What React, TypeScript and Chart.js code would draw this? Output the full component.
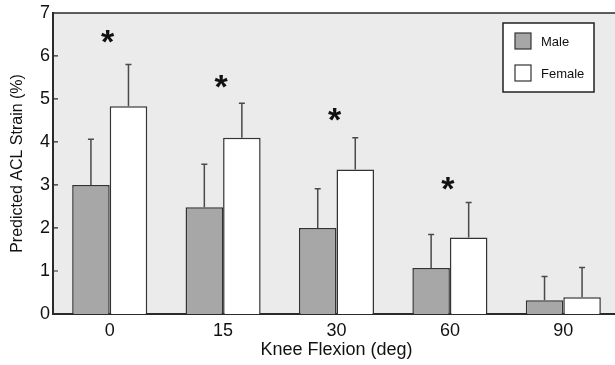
import React, { useEffect, useRef } from "react";
import { Chart, registerables } from "chart.js";

Chart.register(...registerables);

const categories = ["0", "15", "30", "60", "90"];
const maleValues = [3.0, 2.48, 2.0, 1.07, 0.32];
const maleUpper = [4.06, 3.48, 2.91, 1.85, 0.87];
const femaleValues = [4.83, 4.1, 3.36, 1.78, 0.39];
const femaleUpper = [5.8, 4.9, 4.1, 2.59, 1.08];
const asteriskLevels = [6.44, 5.41, 4.64, 3.03, null];
const yTicks = [0, 1, 2, 3, 4, 5, 6, 7];

const FONT = "'Liberation Sans', Arial, Helvetica, sans-serif";
const AXIS_COLOR = "#2a2a2a";

const backgroundPlugin = {
  id: "plotBackground",
  beforeDraw(chart: any) {
    const { ctx, chartArea } = chart;
    ctx.save();
    ctx.fillStyle = "#ebebeb";
    ctx.fillRect(chartArea.left, chartArea.top, chartArea.right - chartArea.left, chartArea.bottom - chartArea.top);
    ctx.restore();
  },
};

const framePlugin = {
  id: "frame",
  afterDatasetsDraw(chart: any) {
    const { ctx, chartArea, scales } = chart;
    const y = scales.y;
    ctx.save();
    ctx.strokeStyle = AXIS_COLOR;
    ctx.lineWidth = 1.5;
    ctx.beginPath();
    ctx.moveTo(chartArea.left, chartArea.top);
    ctx.lineTo(chartArea.right, chartArea.top);
    ctx.lineTo(chartArea.right, chartArea.bottom);
    ctx.stroke();
    ctx.lineWidth = 1.2;
    ctx.beginPath();
    yTicks.forEach((t) => {
      if (t === 0 || t === 7) return;
      const py = y.getPixelForValue(t);
      ctx.moveTo(chartArea.left, py);
      ctx.lineTo(chartArea.left + 5, py);
    });
    ctx.stroke();
    ctx.restore();
  },
};

const errorBarPlugin = {
  id: "errorBars",
  afterDatasetsDraw(chart: any) {
    const { ctx, scales } = chart;
    const uppers = [maleUpper, femaleUpper];
    ctx.save();
    ctx.strokeStyle = "#4a4a4a";
    ctx.lineWidth = 1.5;
    chart.data.datasets.forEach((_ds: any, di: number) => {
      const meta = chart.getDatasetMeta(di);
      meta.data.forEach((el: any, i: number) => {
        const top = scales.y.getPixelForValue(uppers[di][i]);
        ctx.beginPath();
        ctx.moveTo(el.x, el.y);
        ctx.lineTo(el.x, top);
        ctx.moveTo(el.x - 3, top);
        ctx.lineTo(el.x + 3, top);
        ctx.stroke();
      });
    });
    ctx.restore();
  },
};

const asteriskPlugin = {
  id: "asterisks",
  afterDatasetsDraw(chart: any) {
    const { ctx, scales } = chart;
    ctx.save();
    ctx.fillStyle = "#111";
    ctx.font = `bold 34px ${FONT}`;
    ctx.textAlign = "center";
    ctx.textBaseline = "alphabetic";
    const m = ctx.measureText("*");
    asteriskLevels.forEach((v, i) => {
      if (v == null) return;
      const cx = scales.x.getPixelForValue(i) - 2;
      const cy = scales.y.getPixelForValue(v);
      const base = cy + (m.actualBoundingBoxAscent - m.actualBoundingBoxDescent) / 2;
      ctx.fillText("*", cx, base);
    });
    ctx.restore();
  },
};

const legendPlugin = {
  id: "boxLegend",
  afterDraw(chart: any) {
    const { ctx } = chart;
    ctx.save();
    ctx.fillStyle = "#ffffff";
    ctx.fillRect(503, 23, 91, 69);
    ctx.strokeStyle = "#222";
    ctx.lineWidth = 1.5;
    ctx.strokeRect(503, 23, 91, 69);
    const items = chart.data.datasets.map((ds: any) => ({ label: ds.label, color: ds.backgroundColor }));
    items.forEach((it: any, i: number) => {
      const y0 = 33 + i * 32;
      ctx.fillStyle = it.color;
      ctx.fillRect(515, y0, 16, 16);
      ctx.strokeStyle = "#333";
      ctx.lineWidth = 1.2;
      ctx.strokeRect(515, y0, 16, 16);
      ctx.fillStyle = "#111";
      ctx.font = `13px ${FONT}`;
      ctx.textBaseline = "middle";
      ctx.textAlign = "left";
      ctx.fillText(it.label, 541, y0 + 9);
    });
    ctx.restore();
  },
};

export default function App() {
  const ref = useRef<HTMLCanvasElement | null>(null);

  useEffect(() => {
    if (!ref.current) return;
    const chart = new Chart(ref.current, {
      type: "bar",
      data: {
        labels: categories,
        datasets: [
          {
            label: "Male",
            data: maleValues,
            backgroundColor: "#a7a7a7",
            borderColor: "#333",
            borderWidth: 1.5,
            borderSkipped: "bottom",
          },
          {
            label: "Female",
            data: femaleValues,
            backgroundColor: "#ffffff",
            borderColor: "#333",
            borderWidth: 1.5,
            borderSkipped: "bottom",
          },
        ],
      },
      options: {
        responsive: false,
        animation: false,
        devicePixelRatio: 1,
        layout: { padding: { top: 10, right: 2, left: 0, bottom: 0 } },
        datasets: { bar: { categoryPercentage: 0.662, barPercentage: 1 } },
        plugins: { legend: { display: false }, tooltip: { enabled: false } },
        scales: {
          x: {
            grid: { display: false, drawTicks: false },
            border: { display: true, color: AXIS_COLOR, width: 2 },
            ticks: { color: "#111", font: { family: FONT, size: 18 }, padding: 6 },
            title: {
              display: true,
              text: "Knee Flexion (deg)",
              color: "#111",
              font: { family: FONT, size: 18 },
              padding: { top: 0, bottom: 4 },
            },
            afterFit: (s: any) => {
              s.height = 51;
            },
          },
          y: {
            min: 0,
            max: 7,
            grid: { display: false, drawTicks: false },
            border: { display: true, color: AXIS_COLOR, width: 2 },
            afterBuildTicks: (s: any) => {
              s.ticks = yTicks.map((v) => ({ value: v }));
            },
            ticks: { color: "#111", font: { family: FONT, size: 18, lineHeight: 1.1 }, padding: 3 },
            title: {
              display: true,
              text: "Predicted ACL Strain (%)",
              color: "#111",
              font: { family: FONT, size: 16 },
              padding: { top: 8, bottom: 0 },
            },
            afterFit: (s: any) => {
              s.width = 53;
            },
          },
        },
      },
      plugins: [backgroundPlugin, errorBarPlugin, asteriskPlugin, framePlugin, legendPlugin],
    } as any);
    return () => chart.destroy();
  }, []);

  return (
    <div style={{ position: "absolute", left: 0, top: 0, width: 615, height: 365, overflow: "hidden", background: "#fff" }}>
      <canvas ref={ref} width={622} height={365} style={{ display: "block" }} />
    </div>
  );
}
